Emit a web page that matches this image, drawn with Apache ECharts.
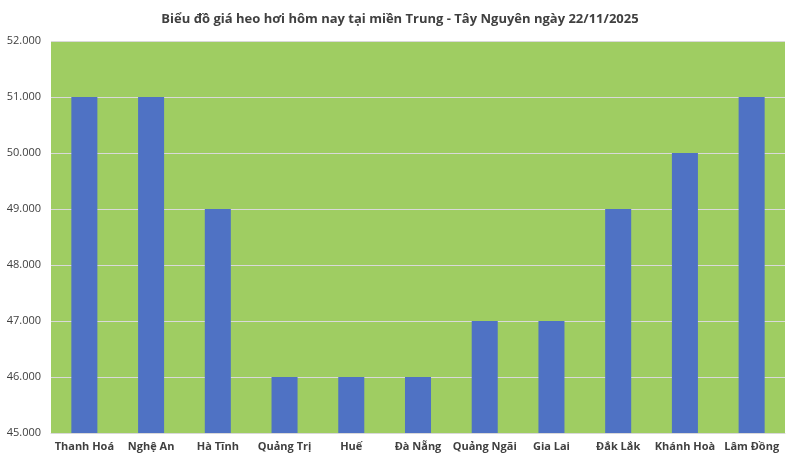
<!DOCTYPE html>
<html>
<head>
<meta charset="utf-8">
<script src="https://cdn.jsdelivr.net/npm/echarts@6/dist/echarts.min.js"></script>
<style>html,body{margin:0;padding:0;background:#fff;}#main{width:800px;height:465px;}</style>
</head>
<body>
<div id="main"></div>
<script>
var titleText = 'Biểu đồ giá heo hơi hôm nay tại miền Trung - Tây Nguyên ngày 22/11/2025';
var provinces = ['Thanh Hoá', 'Nghệ An', 'Hà Tĩnh', 'Quảng Trị', 'Huế', 'Đà Nẵng', 'Quảng Ngãi', 'Gia Lai', 'Đắk Lắk', 'Khánh Hoà', 'Lâm Đồng'];
var prices = [51000, 51000, 49000, 46000, 46000, 46000, 47000, 47000, 49000, 50000, 51000];

var mychart = echarts.init(document.getElementById('main'));
var font = '"Open Sans", "Noto Sans", sans-serif';
mychart.setOption({
	animation: false,
	title: {
		text: titleText,
		left: 'center',
		top: 8,
		textStyle: { fontFamily: font, fontSize: 13, fontWeight: 'bold', color: '#404040' }
	},
	grid: {
		left: 51, right: 15, top: 41, bottom: 32,
		show: true, backgroundColor: '#9FCD62', borderWidth: 0
	},
	xAxis: {
		type: 'category',
		data: provinces,
		axisLine: { lineStyle: { color: '#d9d9d9' } },
		axisTick: { show: false },
		axisLabel: { interval: 0, fontFamily: font, fontSize: 11, fontWeight: 'bold', color: '#404040', margin: 8 }
	},
	yAxis: {
		type: 'value',
		min: 45000, max: 52000, interval: 1000,
		axisLine: { show: false },
		axisTick: { show: false },
		splitLine: { lineStyle: { color: '#d9d9d9', width: 1 } },
		axisLabel: {
			fontFamily: font, fontSize: 11, color: '#404040', margin: 10,
			formatter: function (v) { return v.toString().replace(/\B(?=(\d{3})+(?!\d))/g, '.'); }
		}
	},
	series: [{
		type: 'bar',
		data: prices,
		barWidth: '39%',
		itemStyle: { color: '#4F72C4' }
	}]
});
</script>
</body>
</html>
